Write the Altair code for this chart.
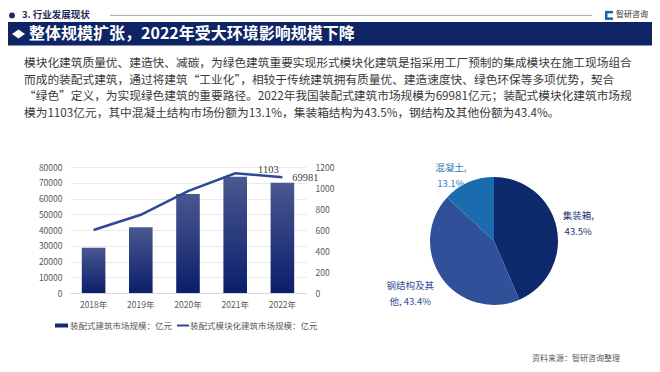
import altair as alt
import pandas as pd

# ---------------- data ----------------
years = ["2018年", "2019年", "2020年", "2021年", "2022年"]
prefab_scale = [28700, 41700, 62900, 73800, 69981]      # 装配式建筑市场规模：亿元
modular_scale = [600, 745, 970, 1140, 1103]             # 装配式模块化建筑市场规模：亿元
left_ticks = [0, 10000, 20000, 30000, 40000, 50000, 60000, 70000, 80000]
right_ticks = [0, 200, 400, 600, 800, 1000, 1200]

pie_cats = ["集装箱", "钢结构及其他", "混凝土"]
pie_vals = [43.5, 43.4, 13.1]
pie_labels = ["集装箱,\n43.5%", "钢结构及其\n他, 43.4%", "混凝土,\n13.1%"]

header_text = "3. 行业发展现状"
logo_text = "智研咨询"
banner_title = "整体规模扩张，2022年受大环境影响规模下降"
paragraph = [
    "模块化建筑质量优、建造快、减碳，为绿色建筑重要实现形式模块化建筑是指采用工厂预制的集成模块在施工现场组合",
    "而成的装配式建筑，通过将建筑“工业化”，相较于传统建筑拥有质量优、建造速度快、绿色环保等多项优势，契合",
    "“绿色”定义，为实现绿色建筑的重要路径。2022年我国装配式建筑市场规模为69981亿元；装配式模块化建筑市场规",
    "模为1103亿元，其中混凝土结构市场份额为13.1%，集装箱结构为43.5%，钢结构及其他份额为43.4%。",
]
legend_names = ["装配式建筑市场规模：亿元", "装配式模块化建筑市场规模：亿元"]
source_text = "资料来源：智研咨询整理"

FONT = "Noto Sans CJK SC"
NAVY = "#0f2465"
GRAY = "#595959"

bar_df = pd.DataFrame({"year": years, "prefab": prefab_scale, "modular": modular_scale})
pie_df = pd.DataFrame({"cat": pie_cats, "val": pie_vals, "label": pie_labels})
one = pd.DataFrame({"k": [0]})

# ---------------- combo chart ----------------
xenc = alt.X(
    "year:N", sort=years,
    scale=alt.Scale(paddingInner=0.5, paddingOuter=0.25),
    axis=alt.Axis(title=None, labelAngle=0, ticks=False, domainColor="#d9d9d9",
                  labelColor=GRAY, labelFontSize=8.5, labelFont=FONT, labelPadding=7),
)

left_axis = alt.Axis(title=None, orient="left", values=left_ticks, format="d",
                     labelOverlap=False, ticks=False, domain=False, labelColor=GRAY,
                     labelFontSize=8.5, labelFont=FONT, labelPadding=8,
                     gridColor="#ebebeb")
right_axis = alt.Axis(title=None, orient="right", values=right_ticks, format="d",
                      labelOverlap=False, ticks=False, domain=False, grid=False,
                      labelColor=GRAY, labelFontSize=8.5, labelFont=FONT, labelPadding=9)
left_scale = alt.Scale(domain=[0, 80000], nice=False, zero=True)
right_scale = alt.Scale(domain=[0, 1200], nice=False, zero=True)

bars = alt.Chart(bar_df).mark_bar(
    color=alt.Gradient(
        gradient="linear",
        stops=[alt.GradientStop(color="#4a5890", offset=0),
               alt.GradientStop(color="#0b1e6b", offset=1)],
        x1=0, x2=0, y1=0, y2=1,
    )
).encode(x=xenc, y=alt.Y("prefab:Q", scale=left_scale, axis=left_axis))
bar_lab = alt.Chart(bar_df).transform_filter(alt.datum.year == "2022年").mark_text(
    font="Liberation Serif", fontSize=10.5, color="#404040", dx=23, dy=-5
).encode(x=xenc, y=alt.Y("prefab:Q", scale=left_scale, axis=None),
         text=alt.Text("prefab:Q", format="d"))

line = alt.Chart(bar_df).mark_line(color="#2c4a96", strokeWidth=2.5).encode(
    x=xenc, y=alt.Y("modular:Q", scale=right_scale, axis=right_axis))
line_lab = alt.Chart(bar_df).transform_filter(alt.datum.year == "2022年").mark_text(
    font="Liberation Serif", fontSize=10.5, color="#404040", dx=-14, dy=-7
).encode(x=xenc, y=alt.Y("modular:Q", scale=right_scale, axis=None),
         text=alt.Text("modular:Q", format="d"))

# ---------------- pie ----------------
PX, PY, PR = 424, 74, 64
pie = alt.Chart(pie_df).mark_arc(radius=PR).encode(
    theta=alt.Theta("val:Q", stack=True),
    order=alt.Order("val:Q", sort="descending"),
    color=alt.Color("cat:N", scale=alt.Scale(domain=pie_cats,
                                             range=["#0e2a6c", "#30519a", "#1b6cae"]),
                    legend=None),
    x=alt.value(PX), y=alt.value(PY),
)


def pie_label(cat, radius, dx, dy, color):
    return alt.Chart(pie_df).transform_stack(
        stack="val", groupby=[], as_=["v0", "v1"],
        sort=[alt.SortField("val", order="descending")],
    ).transform_calculate(mid="(datum.v0 + datum.v1) / 2").transform_filter(
        alt.datum.cat == cat
    ).mark_text(
        radius=radius, dx=dx, dy=dy, color=color, font=FONT, fontSize=9.5,
        lineBreak="\n", lineHeight=16, align="center", baseline="middle",
    ).encode(
        theta=alt.Theta("mid:Q", stack=False, scale=alt.Scale(domain=[0, 100])),
        text="label:N", x=alt.value(PX), y=alt.value(PY),
    )


lab1 = pie_label("集装箱", 86, 0, -8, "#1b2f6e")
lab2 = pie_label("钢结构及其他", 99, -3, -12.5, "#2f4f96")
lab3 = pie_label("混凝土", 78, -12, -1.5, "#2a7bbd")

# ---------------- decorations (page layout) ----------------
def txt(s, x, y, size, color, weight="normal", align="left", font=FONT, **kw):
    return alt.Chart(pd.DataFrame({"t": [s]})).mark_text(
        font=font, fontSize=size, color=color, fontWeight=weight, align=align,
        baseline="middle", **kw
    ).encode(x=alt.value(x), y=alt.value(y), text="t:N")


HY = -151.6
dot = alt.Chart(one).mark_circle(size=34, color="#1c2c5c", opacity=1).encode(
    x=alt.value(-58), y=alt.value(HY))
head = txt(header_text, -48, HY, 9.5, "#1c2c5c", weight="bold")
head_rule = alt.Chart(one).mark_rule(color="#a6a6a6", strokeWidth=1).encode(
    x=alt.value(40), x2=alt.value(522), y=alt.value(HY))
logo_a = alt.Chart(one).mark_rect(color="#1f5fae").encode(
    x=alt.value(535), x2=alt.value(543), y=alt.value(HY - 4.5), y2=alt.value(HY + 4.5))
logo_b = alt.Chart(one).mark_rect(color="#ffffff").encode(
    x=alt.value(537.5), x2=alt.value(543), y=alt.value(HY - 2), y2=alt.value(HY + 2))
logo = txt(logo_text, 546, HY, 8, "#333333")

banner = alt.Chart(one).mark_rect(color=NAVY).encode(
    x=alt.value(-62), x2=alt.value(582), y=alt.value(-145), y2=alt.value(-121.5))
diamond = alt.Chart(one).mark_point(
    shape="M-1,0L0,-0.7L1,0L0,0.7Z", size=169, filled=True, color="#ffffff", opacity=1
).encode(x=alt.value(-51.5), y=alt.value(-133))
title = txt(banner_title, -41, -132.6, 16, "#ffffff", weight="bold")

para = txt("\n".join(paragraph), -46, -104, 11.7, "#3a3a3a",
           lineBreak="\n", lineHeight=16.5)

leg_rect = alt.Chart(one).mark_rect(color="#142a6e").encode(
    x=alt.value(-15), x2=alt.value(-2), y=alt.value(156.5), y2=alt.value(160.5))
leg_t1 = txt(legend_names[0], 0, 158.5, 8.5, GRAY)
leg_line = alt.Chart(one).mark_rule(color="#2c4a96", strokeWidth=2).encode(
    x=alt.value(107), x2=alt.value(119), y=alt.value(158.5))
leg_t2 = txt(legend_names[1], 120, 158.5, 8.5, GRAY)

source = txt(source_text, 462, 192, 8, GRAY)

chart = alt.layer(
    bars, bar_lab, line, line_lab,
    pie, lab1, lab2, lab3,
    dot, head, head_rule, logo_a, logo_b, logo,
    banner, diamond, title, para,
    leg_rect, leg_t1, leg_line, leg_t2, source,
).resolve_scale(y="independent").properties(
    width=236, height=126,
    padding={"left": 62, "top": 159, "right": 346, "bottom": 71},
    autosize=alt.AutoSizeParams(type="none"),
    background="#ffffff",
).configure_view(stroke=None)

chart.save("out.html", embed_options={"renderer": "svg", "actions": False})
